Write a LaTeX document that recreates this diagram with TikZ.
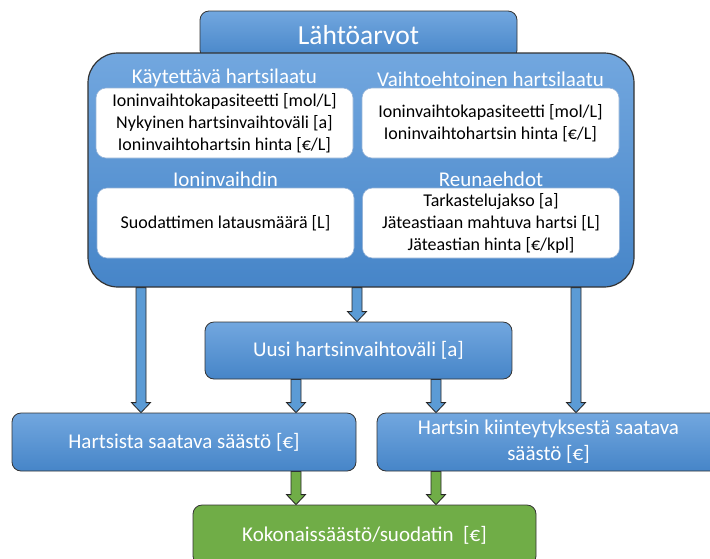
\documentclass[tikz,border=0pt]{standalone}
\usepackage{fontspec}
\setmainfont{Carlito}
\usetikzlibrary{positioning, backgrounds, calc}

\definecolor{boxtop}{HTML}{72A7DF}
\definecolor{boxmid}{HTML}{5B9BD5}
\definecolor{boxbot}{HTML}{4685C8}
\definecolor{sumgreen}{HTML}{70AD47}
\definecolor{frameblue}{HTML}{4F81BD}

\begin{document}
\begin{tikzpicture}[x=1pt, y=-1pt,
  bluebox/.style={draw=black!80, line width=0.8pt, rounded corners=9pt,
    top color=boxtop, middle color=boxmid, bottom color=boxbot,
    text=white, align=center, font=\fontsize{21}{26}\selectfont},
  greenbox/.style={draw=black!80, line width=0.8pt, rounded corners=9pt,
    fill=sumgreen, text=white, align=center, font=\fontsize{21}{26}\selectfont},
  valuebox/.style={draw=frameblue!60, line width=0.6pt, fill=white, rounded corners=10pt,
    align=center, minimum width=257pt, minimum height=70pt, font=\fontsize{18}{22}\selectfont},
  heading/.style={text=white, inner sep=0pt, font=\fontsize{21}{24}\selectfont},
  fatarrow/.style={draw=black!85, line width=0.8pt, fill=#1, to path={
    let \p1=(\tikztostart), \p2=(\tikztotarget) in
    (\x1-5pt,\y1) -- (\x1-5pt,\y2+10pt) -- (\x1-9.5pt,\y2+10pt) -- (\x1,\y2)
    -- (\x1+9.5pt,\y2+10pt) -- (\x1+5pt,\y2+10pt) -- (\x1+5pt,\y1) -- cycle}},
  fatarrow/.default=boxmid]

  \useasboundingbox (0,0) rectangle (710,558);

  % starting values: tab behind the big rounded frame
  \node[bluebox, minimum width=317pt, minimum height=48pt, font=\fontsize{27.5}{30}\selectfont]
    (title) at (358.5,35) {Lähtöarvot};
  \node[bluebox, rounded corners=30pt, line width=1.2pt, minimum width=546pt, minimum height=234pt]
    (inputs) at (361,170) {};

  % groups of input values
  \node[valuebox] (currentresin) at (224.5,123)
    {Ioninvaihtokapasiteetti [mol/L]\\Nykyinen hartsinvaihtoväli [a]\\Ioninvaihtohartsin hinta [€/L]};
  \node[valuebox] (altresin) at (490.5,123)
    {Ioninvaihtokapasiteetti [mol/L]\\Ioninvaihtohartsin hinta [€/L]};
  \node[valuebox] (exchanger) at (225.5,223)
    {Suodattimen latausmäärä [L]};
  \node[valuebox] (limits) at (491,223)
    {Tarkastelujakso [a]\\Jäteastiaan mahtuva hartsi [L]\\Jäteastian hinta [€/kpl]};

  \node[heading, above=1pt of currentresin] {Käytettävä hartsilaatu};
  \node[heading, above=1pt of altresin] {Vaihtoehtoinen hartsilaatu};
  \node[heading, above=1pt of exchanger] {Ioninvaihdin};
  \node[heading, above=1pt of limits] {Reunaehdot};

  % results
  \node[bluebox, minimum width=307pt, minimum height=57pt] (newinterval) at (358.5,350.5)
    {Uusi hartsinvaihtoväli [a]};
  \node[bluebox, minimum width=344pt, minimum height=58pt] (resinsaving) at (184,442)
    {Hartsista saatava säästö [€]};
  \node[bluebox, minimum width=343pt, minimum height=58pt] (solidsaving) at (548.5,442)
    {Hartsin kiinteytyksestä saatava\\säästö [€]};
  \node[greenbox, minimum width=343pt, minimum height=60pt] (totalsaving) at (364.5,535)
    {Kokonaissäästö/suodatin\ \ [€]};

  % block arrows go behind the boxes
  \begin{scope}[on background layer]
    \draw[fatarrow] (inputs.south -| 141,0) to (resinsaving.north -| 141,0);
    \draw[fatarrow] (inputs.south -| 357,0) to (newinterval.north -| 357,0);
    \draw[fatarrow] (inputs.south -| 576,0) to (solidsaving.north -| 576,0);
    \draw[fatarrow] (newinterval.south -| 296,0) to (resinsaving.north -| 296,0);
    \draw[fatarrow] (newinterval.south -| 436,0) to (solidsaving.north -| 436,0);
    \draw[fatarrow=sumgreen] (resinsaving.south -| 296,0) to (totalsaving.north -| 296,0);
    \draw[fatarrow=sumgreen] (solidsaving.south -| 436,0) to (totalsaving.north -| 436,0);
  \end{scope}

\end{tikzpicture}
\end{document}
